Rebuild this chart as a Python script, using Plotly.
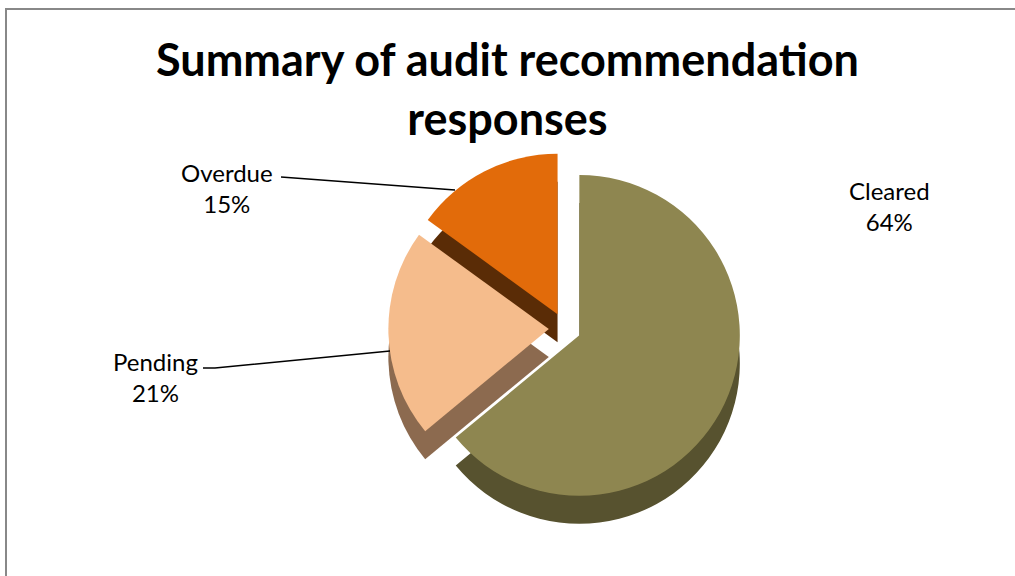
import plotly.graph_objects as go

categories = ["Cleared", "Pending", "Overdue"]
values = [64, 21, 15]
top_colors = ["#8E8650", "#F5BC8C", "#E26B0A"]
side_colors = ["#57522F", "#8C6A4F", "#5A2C06"]

W, H = 1015, 576
FONT = "Lato, Open Sans, sans-serif"


def px(x):
    return x / W


def py(y):
    return 1 - y / H


total = sum(values)
texts = [f"{c}<br>{round(100 * v / total)}%" for c, v in zip(categories, values)]

fig = go.Figure()

# depth (side) layer, shifted down
fig.add_trace(go.Pie(
    labels=categories, values=values, sort=False, direction="clockwise",
    rotation=0, pull=[0.1, 0.1, 0.1], automargin=False,
    marker=dict(colors=side_colors, line=dict(width=0)),
    textinfo="none", hoverinfo="skip", showlegend=False,
    domain=dict(x=[0.25, 0.863], y=[py(533), py(180)]),
))
# top face
fig.add_trace(go.Pie(
    labels=categories, values=values, sort=False, direction="clockwise",
    rotation=0, pull=[0.1, 0.1, 0.1], automargin=False,
    marker=dict(colors=top_colors, line=dict(width=0)),
    textinfo="none", hoverinfo="label+percent", showlegend=False,
    domain=dict(x=[0.25, 0.863], y=[py(505), py(152)]),
))

# data labels
label_pos = {"Cleared": (889, 206), "Pending": (155, 377), "Overdue": (227, 188)}
for cat, txt in zip(categories, texts):
    x, y = label_pos[cat]
    fig.add_annotation(x=px(x), y=py(y), xref="paper", yref="paper",
                       xanchor="center", yanchor="middle",
                       text=txt, showarrow=False, align="center",
                       font=dict(family=FONT, size=24, color="#000000"))

# leader lines
fig.add_shape(type="line", xref="paper", yref="paper",
              x0=px(281), y0=py(177), x1=px(455), y1=py(190),
              line=dict(color="#000000", width=1.5))
fig.add_shape(type="path", xref="paper", yref="paper",
              path=f"M {px(203)} {py(368)} L {px(215)} {py(368)} L {px(390)} {py(351)}",
              line=dict(color="#000000", width=1.5))

# title
fig.add_annotation(x=0.5, y=py(88), xref="paper", yref="paper",
                   xanchor="center", yanchor="middle",
                   text="<b>Summary of audit recommendation<br>responses</b>",
                   showarrow=False, align="center",
                   font=dict(family=FONT, size=45, color="#000000"))

# chart border (right and bottom edges are cropped)
fig.add_shape(type="rect", xref="paper", yref="paper",
              x0=px(6), y0=-0.1, x1=1.1, y1=py(9),
              line=dict(color="#888888", width=2), layer="below")

fig.update_layout(
    width=W, height=H, autosize=False,
    margin=dict(l=0, r=0, t=0, b=0, pad=0, autoexpand=False),
    paper_bgcolor="white", plot_bgcolor="white",
)

fig.write_html("out.html")
